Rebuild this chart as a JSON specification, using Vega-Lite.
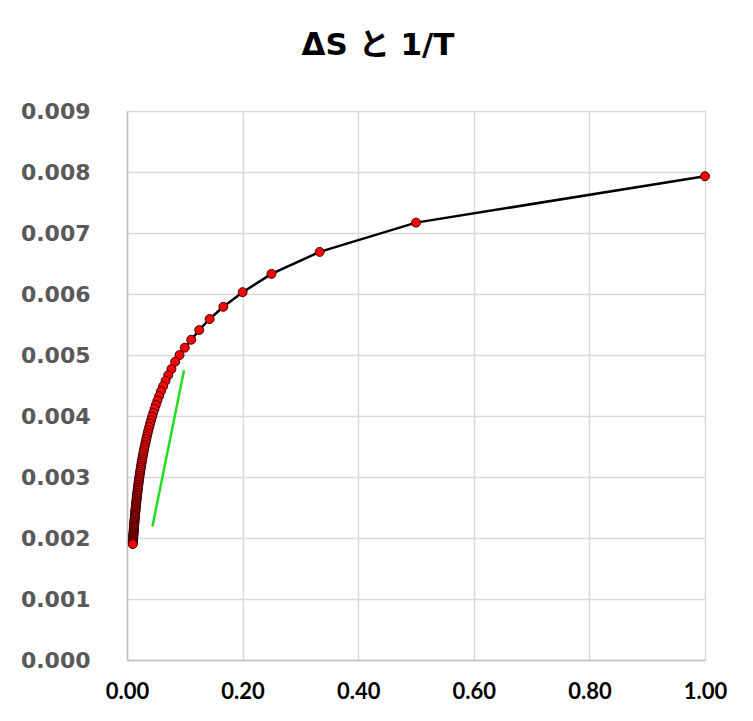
{
  "$schema": "https://vega.github.io/schema/vega-lite/v6.json",
  "width": 578,
  "height": 549,
  "autosize": {"type": "none"},
  "padding": {"left": 127, "top": 111, "right": 48, "bottom": 61},
  "background": "#ffffff",
  "title": {
    "text": "ΔS と 1/T",
    "font": "DejaVu Sans, Noto Sans CJK JP",
    "fontSize": 31,
    "fontWeight": "bold",
    "color": "#000000",
    "anchor": "middle",
    "dx": -38,
    "baseline": "alphabetic",
    "offset": 14
  },
  "config": {
    "view": {"stroke": null},
    "axis": {
      "gridColor": "#d9d9d9",
      "gridWidth": 1.5,
      "domainColor": "#bfbfbf",
      "domainWidth": 1.5,
      "ticks": false,
      "title": null
    }
  },
  "datasets": {
    "pts": [
      {"x": 1, "y": 0.00793},
      {"x": 0.5, "y": 0.00717},
      {"x": 0.3333, "y": 0.00669},
      {"x": 0.25, "y": 0.00633},
      {"x": 0.2, "y": 0.00603},
      {"x": 0.1667, "y": 0.00579},
      {"x": 0.1429, "y": 0.00559},
      {"x": 0.125, "y": 0.00541},
      {"x": 0.1111, "y": 0.00525},
      {"x": 0.1, "y": 0.00512},
      {"x": 0.0909, "y": 0.00500},
      {"x": 0.0833, "y": 0.00489},
      {"x": 0.0769, "y": 0.00477},
      {"x": 0.0714, "y": 0.00467},
      {"x": 0.0667, "y": 0.004576},
      {"x": 0.0625, "y": 0.004488},
      {"x": 0.0588, "y": 0.004406},
      {"x": 0.0556, "y": 0.004327},
      {"x": 0.0526, "y": 0.004253},
      {"x": 0.05, "y": 0.004183},
      {"x": 0.0476, "y": 0.004116},
      {"x": 0.0455, "y": 0.004052},
      {"x": 0.0435, "y": 0.003990},
      {"x": 0.0417, "y": 0.003931},
      {"x": 0.04, "y": 0.003875},
      {"x": 0.0385, "y": 0.003820},
      {"x": 0.037, "y": 0.003768},
      {"x": 0.0357, "y": 0.003717},
      {"x": 0.0345, "y": 0.003668},
      {"x": 0.0333, "y": 0.003621},
      {"x": 0.0323, "y": 0.003575},
      {"x": 0.0313, "y": 0.003531},
      {"x": 0.0303, "y": 0.003488},
      {"x": 0.0294, "y": 0.003446},
      {"x": 0.0286, "y": 0.003405},
      {"x": 0.0278, "y": 0.003365},
      {"x": 0.027, "y": 0.003327},
      {"x": 0.0263, "y": 0.003289},
      {"x": 0.0256, "y": 0.003253},
      {"x": 0.025, "y": 0.003217},
      {"x": 0.0244, "y": 0.003182},
      {"x": 0.0238, "y": 0.003148},
      {"x": 0.0233, "y": 0.003115},
      {"x": 0.0227, "y": 0.003082},
      {"x": 0.0222, "y": 0.003050},
      {"x": 0.0217, "y": 0.003019},
      {"x": 0.0213, "y": 0.002989},
      {"x": 0.0208, "y": 0.002959},
      {"x": 0.0204, "y": 0.002929},
      {"x": 0.02, "y": 0.002901},
      {"x": 0.0196, "y": 0.002872},
      {"x": 0.0192, "y": 0.002845},
      {"x": 0.0189, "y": 0.002818},
      {"x": 0.0185, "y": 0.002791},
      {"x": 0.0182, "y": 0.002765},
      {"x": 0.0179, "y": 0.002739},
      {"x": 0.0175, "y": 0.002714},
      {"x": 0.0172, "y": 0.002689},
      {"x": 0.0169, "y": 0.002664},
      {"x": 0.0167, "y": 0.002640},
      {"x": 0.0164, "y": 0.002617},
      {"x": 0.0161, "y": 0.002593},
      {"x": 0.0159, "y": 0.002570},
      {"x": 0.0156, "y": 0.002548},
      {"x": 0.0154, "y": 0.002525},
      {"x": 0.0152, "y": 0.002503},
      {"x": 0.0149, "y": 0.002482},
      {"x": 0.0147, "y": 0.002460},
      {"x": 0.0145, "y": 0.002440},
      {"x": 0.0143, "y": 0.002419},
      {"x": 0.0141, "y": 0.002398},
      {"x": 0.0139, "y": 0.002378},
      {"x": 0.0137, "y": 0.002358},
      {"x": 0.0135, "y": 0.002339},
      {"x": 0.0133, "y": 0.002319},
      {"x": 0.0132, "y": 0.002300},
      {"x": 0.013, "y": 0.002281},
      {"x": 0.0128, "y": 0.002262},
      {"x": 0.0127, "y": 0.002244},
      {"x": 0.0125, "y": 0.002226},
      {"x": 0.0123, "y": 0.002208},
      {"x": 0.0122, "y": 0.002190},
      {"x": 0.012, "y": 0.002172},
      {"x": 0.0119, "y": 0.002155},
      {"x": 0.0118, "y": 0.002138},
      {"x": 0.0116, "y": 0.002121},
      {"x": 0.0115, "y": 0.002104},
      {"x": 0.0114, "y": 0.002088},
      {"x": 0.0112, "y": 0.002071},
      {"x": 0.0111, "y": 0.002055},
      {"x": 0.011, "y": 0.002039},
      {"x": 0.0109, "y": 0.002023},
      {"x": 0.0108, "y": 0.002007},
      {"x": 0.0106, "y": 0.001992},
      {"x": 0.0105, "y": 0.001976},
      {"x": 0.0104, "y": 0.001961},
      {"x": 0.0103, "y": 0.001946},
      {"x": 0.0102, "y": 0.001931},
      {"x": 0.0101, "y": 0.001916},
      {"x": 0.01, "y": 0.001900}
    ],
    "green": [
      {"x": 0.044, "y": 0.00219},
      {"x": 0.0987, "y": 0.00475}
    ]
  },
  "layer": [
    {
      "data": {"name": "pts"},
      "mark": {"type": "line", "color": "#000000", "strokeWidth": 2.5},
      "encoding": {
        "x": {
          "field": "x", "type": "quantitative",
          "scale": {"domain": [0, 1], "nice": false},
          "axis": {
            "values": [0, 0.2, 0.4, 0.6, 0.8, 1],
            "format": ".2f",
            "labelFont": "Lato",
            "labelFontSize": 22,
            "labelFontWeight": "bold",
            "labelColor": "#000000",
            "labelPadding": 21,
            "labelFlush": false
          }
        },
        "y": {
          "field": "y", "type": "quantitative",
          "scale": {"domain": [0, 0.009], "nice": false},
          "axis": {
            "values": [0, 0.001, 0.002, 0.003, 0.004, 0.005, 0.006, 0.007, 0.008, 0.009],
            "format": ".3f",
            "labelFont": "DejaVu Sans",
            "labelFontSize": 22,
            "labelFontWeight": "bold",
            "labelColor": "#595959",
            "labelPadding": 37
          }
        }
      }
    },
    {
      "data": {"name": "green"},
      "mark": {"type": "line", "color": "#22dd22", "strokeWidth": 2.5},
      "encoding": {
        "x": {"field": "x", "type": "quantitative"},
        "y": {"field": "y", "type": "quantitative"}
      }
    },
    {
      "data": {"name": "pts"},
      "mark": {"type": "point", "shape": "circle", "filled": true, "fill": "#ff0000", "stroke": "#3a0000", "strokeWidth": 1, "size": 80, "opacity": 1},
      "encoding": {
        "x": {"field": "x", "type": "quantitative"},
        "y": {"field": "y", "type": "quantitative"}
      }
    }
  ]
}
